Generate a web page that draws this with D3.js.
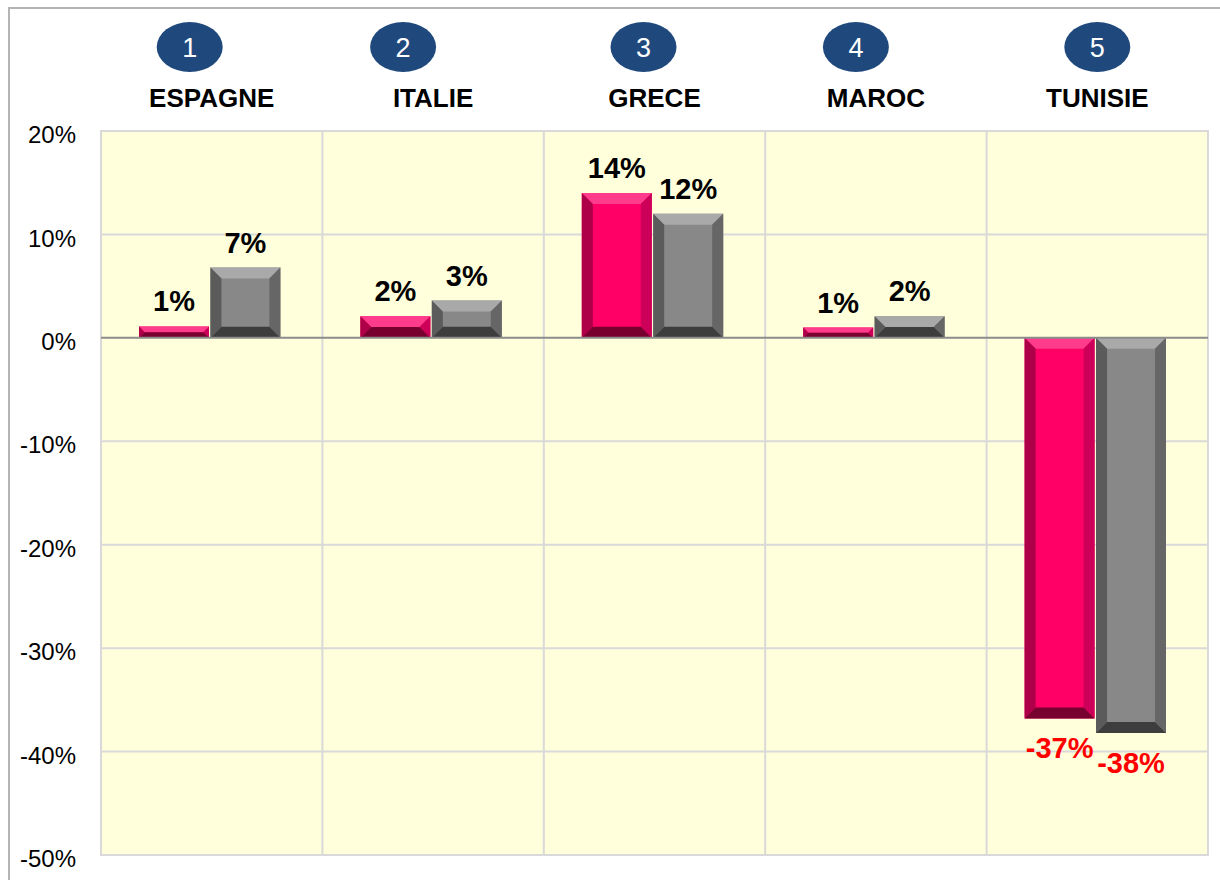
<!DOCTYPE html>
<html>
<head>
<meta charset="utf-8">
<script src="https://cdn.jsdelivr.net/npm/d3@7"></script>
<style>
  body { margin: 0; background: #fff; }
  svg { display: block; font-family: "Liberation Sans", Arial, sans-serif; }
</style>
</head>
<body>
<svg id="chart" width="1220" height="880"></svg>
<script>
// data
const countries = ["ESPAGNE", "ITALIE", "GRECE", "MAROC", "TUNISIE"];
const ranks = ["1", "2", "3", "4", "5"];
const seriesA = [1.1, 2.1, 14.0, 1.0, -36.8];   // pink bars
const seriesB = [6.8, 3.6, 12.0, 2.1, -38.2];   // grey bars
const labelsA = ["1%", "2%", "14%", "1%", "-37%"];
const labelsB = ["7%", "3%", "12%", "2%", "-38%"];
const yTicks = [20, 10, 0, -10, -20, -30, -40, -50];

const badgeShift = [-22, -30, -11, -20, 0]; // badges sit a little left of the labels

const svg = d3.select('#chart');
const margin = {left: 101, right: 12, top: 131, bottom: 25};
const width = +svg.attr('width');
const height = +svg.attr('height');

// outer frame (only top and left edges visible)
svg.append('rect')
    .attr('x', 9).attr('y', 8)
    .attr('width', 1240).attr('height', 900)
    .attr('fill', 'none')
    .attr('stroke', '#b4b4b4')
    .attr('stroke-width', 2);

const x = d3.scaleBand()
    .domain(countries)
    .range([margin.left, width - margin.right]);
const y = d3.scaleLinear()
    .domain([-50, 20])
    .range([height - margin.bottom, margin.top]);

const inner = d3.scaleBand()
    .domain(["A", "B"])
    .range([38, x.bandwidth() - 42])
    .paddingInner(0.02);

// plot background
svg.append('rect')
    .attr('x', margin.left).attr('y', y(20))
    .attr('width', x.range()[1] - margin.left)
    .attr('height', y(-50) - y(20))
    .attr('fill', '#ffffdc')
    .attr('stroke', '#d9d9d9')
    .attr('stroke-width', 2);

// horizontal grid
svg.append('g')
    .selectAll('line')
    .data(yTicks.filter(t => t !== 0 && t !== 20 && t !== -50))
    .enter().append('line')
    .attr('x1', margin.left).attr('x2', x.range()[1])
    .attr('y1', d => y(d)).attr('y2', d => y(d))
    .attr('stroke', '#d9d9d9')
    .attr('stroke-width', 2);

// vertical category separators
svg.append('g')
    .selectAll('line')
    .data(countries.slice(1))
    .enter().append('line')
    .attr('x1', d => x(d)).attr('x2', d => x(d))
    .attr('y1', y(20)).attr('y2', y(-50))
    .attr('stroke', '#d9d9d9')
    .attr('stroke-width', 2);

// y axis labels
const yAxis = d3.axisLeft(y)
    .tickValues(yTicks)
    .tickSize(0)
    .tickPadding(25)
    .tickFormat(d => d + '%');
const yg = svg.append('g')
    .attr('transform', `translate(${margin.left},0)`)
    .call(yAxis);
yg.select('.domain').remove();
yg.selectAll('text')
    .attr('font-family', '"Liberation Sans", Arial, sans-serif')
    .attr('font-size', 24)
    .attr('fill', '#000')
    .attr('dy', '0.36em')
    .attr('transform', 'translate(0,3)');

// beveled bar
const palettes = {
    A: {face: '#ff0066', top: '#ff3c8c', left: '#ad0048', right: '#cc0058', bottom: '#78002f'},
    B: {face: '#888888', top: '#a9a9a9', left: '#5b5b5b', right: '#666666', bottom: '#3d3d3d'}
};
function bevelBar(g, x0, w, v, pal) {
    const y0 = Math.min(y(v), y(0));
    const h = Math.abs(y(v) - y(0));
    const b = Math.min(11, h / 2, w / 2);
    const x1 = x0 + w, y1 = y0 + h;
    const poly = (pts, fill) => g.append('polygon')
        .attr('points', pts.map(p => p.join(',')).join(' '))
        .attr('fill', fill);
    poly([[x0, y0], [x1, y0], [x1, y1], [x0, y1]], pal.face);
    poly([[x0, y0], [x1, y0], [x1 - b, y0 + b], [x0 + b, y0 + b]], pal.top);
    poly([[x0, y0], [x0 + b, y0 + b], [x0 + b, y1 - b], [x0, y1]], pal.left);
    poly([[x1, y0], [x1, y1], [x1 - b, y1 - b], [x1 - b, y0 + b]], pal.right);
    poly([[x0, y1], [x0 + b, y1 - b], [x1 - b, y1 - b], [x1, y1]], pal.bottom);
}

const bars = svg.append('g');
countries.forEach((c, i) => {
    [["A", seriesA[i], labelsA[i]], ["B", seriesB[i], labelsB[i]]].forEach(([k, v, lab]) => {
        const bx = x(c) + inner(k);
        const g = bars.append('g');
        bevelBar(g, bx, inner.bandwidth(), v, palettes[k]);
        g.append('text')
            .attr('x', bx + inner.bandwidth() / 2)
            .attr('y', v >= 0 ? y(v) - 15 : y(v) + 40)
            .attr('text-anchor', 'middle')
            .attr('font-size', 29)
            .attr('font-weight', 'bold')
            .attr('fill', v >= 0 ? '#000' : '#ff0000')
            .text(lab);
    });
});

// zero line
svg.append('line')
    .attr('x1', margin.left).attr('x2', x.range()[1])
    .attr('y1', y(0)).attr('y2', y(0))
    .attr('stroke', '#8c8c8c')
    .attr('stroke-width', 2);

// header: numbered badges and country names
const head = svg.append('g');
countries.forEach((c, i) => {
    const cx = x(c) + x.bandwidth() / 2;
    head.append('ellipse')
        .attr('cx', cx + badgeShift[i]).attr('cy', 47)
        .attr('rx', 33).attr('ry', 25)
        .attr('fill', '#1f497d');
    head.append('text')
        .attr('x', cx + badgeShift[i]).attr('y', 57)
        .attr('text-anchor', 'middle')
        .attr('font-size', 27)
        .attr('fill', '#fff')
        .text(ranks[i]);
    head.append('text')
        .attr('x', cx).attr('y', 107)
        .attr('text-anchor', 'middle')
        .attr('font-size', 26)
        .attr('font-weight', 'bold')
        .attr('fill', '#000')
        .text(c);
});
</script>
</body>
</html>
